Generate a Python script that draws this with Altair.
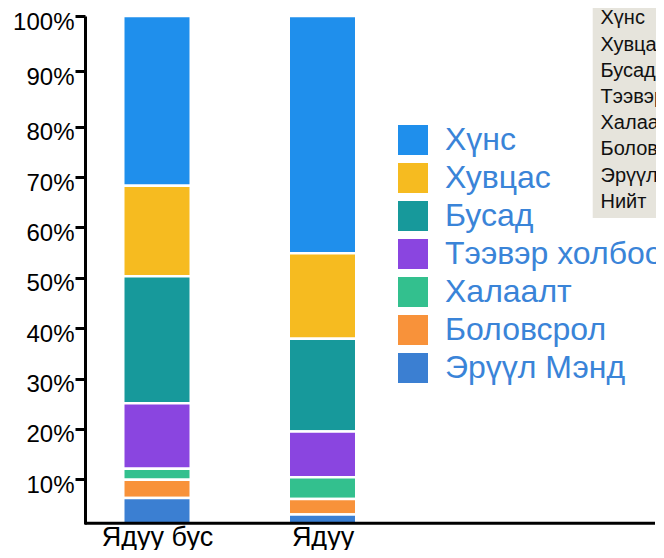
import altair as alt
import pandas as pd

categories = ["Ядуу бус", "Ядуу"]
series = ["Хүнс", "Хувцас", "Бусад", "Тээвэр холбоо", "Халаалт", "Боловсрол", "Эрүүл Мэнд"]
non_poor = [31.7, 18.0, 25.2, 13.0, 2.2, 3.6, 6.3]
poor = [45.1, 17.0, 18.4, 9.1, 4.3, 3.1, 3.0]
colors = ["#1f8fec", "#f6bb20", "#17999b", "#8a45e0", "#33c08e", "#f8923a", "#3b7fd2"]
y_ticks = [10, 20, 30, 40, 50, 60, 70, 80, 90, 100]
box_labels = ["Хүнс", "Хувцас", "Бусад", "Тээвэр холбоо", "Халаалт", "Боловсрол", "Эрүүл Мэнд", "Нийт"]

FONT = "Liberation Sans"
W, H = 571, 508

rows = []
n = len(series)
for cat, vals in zip(categories, [non_poor, poor]):
    for i, (s, v) in enumerate(zip(series, vals)):
        rows.append({"cat": cat, "series": s, "value": v, "rank": n - 1 - i})
df = pd.DataFrame(rows)

bars = alt.Chart(df).mark_bar(size=67.5, stroke="white", strokeWidth=2.5).encode(
    x=alt.X("cat:N", sort=categories,
            scale=alt.Scale(type="point", range=[72, 237.5], padding=0),
            axis=alt.Axis(title=None, domain=False, ticks=False, labelAngle=0,
                          labelFont=FONT, labelFontSize=27, labelColor="black",
                          labelBaseline="alphabetic", labelPadding=21)),
    y=alt.Y("value:Q", stack="zero",
            scale=alt.Scale(domain=[1.1, 10, 80, 100], range=[H, 463.3, 110.7, 0],
                            clamp=True, nice=False, zero=False),
            axis=alt.Axis(title=None, values=y_ticks, grid=False,
                          labelExpr="datum.value + '%'",
                          labelFont=FONT, labelFontSize=24, labelColor="black",
                          labelBaseline="alphabetic", labelOffset=13, labelPadding=1,
                          domainColor="black", domainWidth=3,
                          tickColor="black", tickWidth=3, tickSize=10)),
    color=alt.Color("series:N", sort=series,
                    scale=alt.Scale(domain=series, range=colors),
                    legend=alt.Legend(title=None, orient="none", legendX=312, legendY=108,
                                      symbolType="square", symbolSize=900,
                                      symbolStrokeWidth=0, symbolOpacity=1,
                                      labelFont=FONT, labelFontSize=32,
                                      labelColor="#3a84d8", labelOffset=16,
                                      labelLimit=600, rowPadding=6, padding=0)),
    order=alt.Order("rank:Q"),
)

one = pd.DataFrame({"k": [0]})
x_axis = alt.Chart(one).mark_rule(color="black", strokeWidth=3).encode(
    x=alt.value(0), x2=alt.value(570), y=alt.value(H - 0.7)
)

box = alt.Chart(one).mark_rect(color="#e6e4dc").encode(
    x=alt.value(507.7), x2=alt.value(620), y=alt.value(-13), y2=alt.value(202)
)

box_df = pd.DataFrame({"label": box_labels, "idx": list(range(len(box_labels)))})
box_text = alt.Chart(box_df).mark_text(
    align="left", baseline="middle", font=FONT, fontSize=20, color="#111111"
).encode(
    x=alt.value(515.5),
    y=alt.Y("idx:Q", scale=alt.Scale(domain=[0, 7], range=[2.4, 185.7]), axis=None),
    text="label:N",
)

chart = alt.layer(bars, x_axis, box, box_text).resolve_scale(y="independent").properties(
    width=W, height=H,
    autosize=alt.AutoSizeParams(type="none"),
    padding={"left": 77, "top": 8, "right": 0, "bottom": 26},
).configure_view(stroke=None)

chart.save("out.html", embed_options={"renderer": "svg", "actions": False})
